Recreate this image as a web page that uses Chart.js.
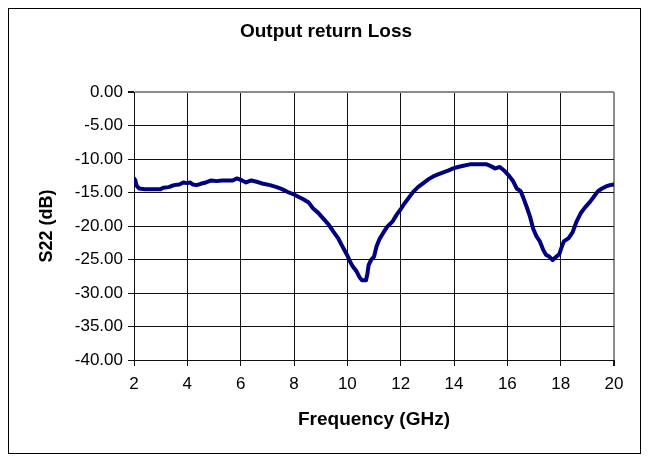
<!DOCTYPE html>
<html>
<head>
<meta charset="utf-8">
<script src="https://cdn.jsdelivr.net/npm/chart.js@4.4.0/dist/chart.umd.min.js"></script>
<style>
  html, body { margin: 0; padding: 0; background: #fff; }
  #wrap { position: relative; width: 648px; height: 462px; }
  #frame { position: absolute; left: 8px; top: 8px; width: 631px; height: 444px; border: 1px solid #000; pointer-events: none; }
  canvas { display: block; }
</style>
</head>
<body>
<div id="wrap">
  <canvas id="c" width="648" height="462"></canvas>
  <div id="frame"></div>
</div>
<script>
const titleText = "Output return Loss";
const xTitle = "Frequency (GHz)";
const yTitle = "S22 (dB)";

const freqGHz = [2.0, 2.05, 2.1, 2.2, 2.4, 2.6, 2.8, 3.0, 3.1, 3.3, 3.5, 3.7, 3.85, 4.0, 4.1, 4.2, 4.35, 4.5, 4.7, 4.9,
  5.1, 5.3, 5.5, 5.7, 5.85, 6.0, 6.2, 6.4, 6.6, 6.85, 7.1, 7.35, 7.55, 7.75, 8.0, 8.2, 8.35, 8.55, 8.72, 8.9,
  9.1, 9.3, 9.47, 9.65, 9.85, 10.0, 10.1, 10.2, 10.35, 10.45, 10.55, 10.7, 10.75, 10.8, 10.9, 11.0, 11.1, 11.2, 11.35, 11.5,
  11.7, 11.85, 12.0, 12.15, 12.3, 12.47, 12.65, 12.85, 13.05, 13.22, 13.4, 13.6, 13.8, 13.97, 14.15, 14.35, 14.6, 14.9, 15.23, 15.4,
  15.54, 15.72, 15.9, 16.04, 16.2, 16.35, 16.5, 16.6, 16.73, 16.85, 16.97, 17.1, 17.22, 17.35, 17.45, 17.58, 17.7, 17.8, 17.95, 18.05,
  18.12, 18.3, 18.45, 18.6, 18.75, 18.9, 19.1, 19.25, 19.4, 19.55, 19.7, 19.85, 20.0];

const s22dB = [-12.9, -13.2, -14.0, -14.4, -14.5, -14.5, -14.5, -14.5, -14.3, -14.2, -13.9, -13.8, -13.5, -13.6, -13.5, -13.8, -13.9, -13.7, -13.5, -13.2,
  -13.3, -13.2, -13.2, -13.2, -12.9, -13.1, -13.5, -13.2, -13.4, -13.7, -13.9, -14.2, -14.5, -14.9, -15.3, -15.7, -16.0, -16.5, -17.4, -18.0,
  -18.9, -19.8, -20.8, -21.8, -23.3, -24.4, -25.3, -26.0, -26.8, -27.6, -28.1, -28.1, -27.2, -25.8, -25.0, -24.6, -23.0, -22.0, -21.0, -20.1,
  -19.3, -18.3, -17.5, -16.6, -15.8, -14.9, -14.2, -13.6, -13.0, -12.6, -12.3, -12.0, -11.7, -11.4, -11.2, -11.0, -10.8, -10.8, -10.8, -11.1,
  -11.4, -11.2, -11.8, -12.4, -13.2, -14.4, -14.8, -15.8, -17.2, -18.6, -20.4, -21.6, -22.3, -23.6, -24.3, -24.6, -25.1, -24.7, -24.2, -23.0,
  -22.3, -21.8, -20.9, -19.3, -18.1, -17.3, -16.4, -15.6, -14.8, -14.4, -14.1, -13.9, -13.8];

const xMin = 2, xMax = 20, xStep = 2;
const yMin = -40, yMax = 0, yStep = 5;

const points = freqGHz.map((f, i) => ({ x: f, y: s22dB[i] }));

const FONT = "'Liberation Sans', Arial, sans-serif";

new Chart(document.getElementById('c'), {
  type: 'line',
  data: {
    datasets: [{
      data: points,
      borderColor: '#000080',
      borderWidth: 4,
      pointRadius: 0,
      tension: 0,
      fill: false,
      borderJoinStyle: 'round',
      borderCapStyle: 'round'
    }]
  },
  options: {
    responsive: false,
    animation: false,
    layout: { padding: { left: 38, right: 34, top: 0, bottom: 20 } },
    plugins: {
      legend: { display: false },
      tooltip: { enabled: false },
      title: {
        display: true,
        text: titleText,
        color: '#000',
        font: { family: FONT, size: 19, weight: 'bold' },
        padding: { top: 20, bottom: 49.2 }
      }
    },
    scales: {
      x: {
        type: 'linear',
        min: xMin, max: xMax,
        afterFit: s => { s.height = 82; },
        ticks: {
          stepSize: xStep,
          color: '#000',
          font: { family: FONT, size: 17 },
          padding: 8,
          maxRotation: 0
        },
        grid: {
          color: c => (c.tick && c.tick.value === xMax) ? '#8c8c8c' : '#111',
          lineWidth: c => (c.tick && c.tick.value === xMax) ? 2 : 1,
          tickColor: '#111',
          tickLength: 6,
          drawTicks: true
        },
        border: { display: true, color: '#111', width: 1 },
        title: {
          display: true,
          text: xTitle,
          color: '#000',
          font: { family: FONT, size: 19, weight: 'bold' },
          padding: { top: 0, bottom: 10.6 }
        }
      },
      y: {
        type: 'linear',
        min: yMin, max: yMax,
        afterFit: s => { s.width = 96; },
        ticks: {
          stepSize: yStep,
          color: '#000',
          font: { family: FONT, size: 17 },
          padding: 5,
          callback: v => Number(v).toFixed(2)
        },
        grid: {
          color: c => (c.tick && c.tick.value === yMax) ? '#8c8c8c' : '#111',
          lineWidth: c => (c.tick && c.tick.value === yMax) ? 2 : 1,
          tickColor: '#111',
          tickLength: 6,
          drawTicks: true
        },
        border: { display: true, color: '#111', width: 1 },
        title: {
          display: true,
          text: yTitle,
          color: '#000',
          font: { family: FONT, size: 18, weight: 'bold' },
          padding: { top: -1.8, bottom: 0 }
        }
      }
    }
  }
});
</script>
</body>
</html>
